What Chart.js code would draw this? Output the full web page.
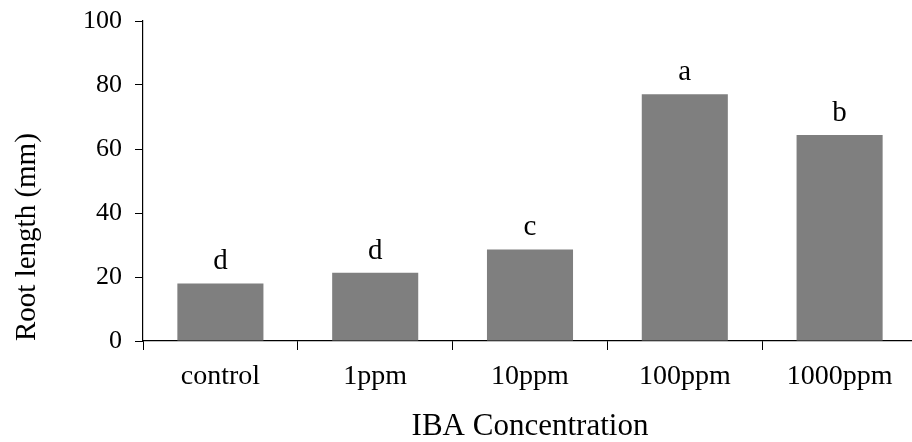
<!DOCTYPE html>
<html>
<head>
<meta charset="utf-8">
<script src="https://cdn.jsdelivr.net/npm/chart.js@4/dist/chart.umd.min.js"></script>
<style>
  html, body { margin: 0; padding: 0; background: #fff; overflow: hidden; }
  #wrap { position: relative; width: 917px; height: 442px; }
</style>
</head>
<body>
<div id="wrap"><canvas id="c"></canvas></div>
<script>
const categories = ['control', '1ppm', '10ppm', '100ppm', '1000ppm'];
const rootLength = [18.0, 21.3, 28.6, 77.1, 64.4];
const letters = ['d', 'd', 'c', 'a', 'b'];
const yTicks = [0, 20, 40, 60, 80, 100];

const FONT = "'Liberation Serif', 'Times New Roman', serif";

const letterPlugin = {
  id: 'letters',
  afterDatasetsDraw(chart) {
    const ctx = chart.ctx;
    const meta = chart.getDatasetMeta(0);
    ctx.save();
    ctx.font = '29px ' + FONT;
    ctx.fillStyle = '#000';
    ctx.textAlign = 'center';
    ctx.textBaseline = 'alphabetic';
    meta.data.forEach((bar, i) => {
      ctx.fillText(letters[i], bar.x, bar.y - 14);
    });
    ctx.restore();
  }
};

new Chart(document.getElementById('c'), {
  type: 'bar',
  data: {
    labels: categories,
    datasets: [{
      data: rootLength,
      backgroundColor: '#7f7f7f',
      borderWidth: 0,
      categoryPercentage: 1.0,
      barPercentage: 0.556
    }]
  },
  options: {
    responsive: true,
    maintainAspectRatio: false,
    animation: false,
    layout: { padding: { top: 21, left: 0, right: 0, bottom: 0 } },
    plugins: { legend: { display: false }, tooltip: { enabled: false } },
    scales: {
      x: {
        grid: { display: true, drawOnChartArea: false, drawTicks: true, tickLength: 9, color: '#000', lineWidth: 1, offset: true },
        border: { display: true, color: '#000', width: 1.2 },
        ticks: { color: '#000', font: { family: FONT, size: 28 }, padding: 10, maxRotation: 0, autoSkip: false },
        title: { display: true, text: 'IBA Concentration', color: '#000', font: { family: FONT, size: 31, lineHeight: 1.0 }, padding: { top: 4, bottom: 0 } },
        afterFit(s) { s.height = 101; }
      },
      y: {
        min: 0, max: 100,
        afterBuildTicks(s) { s.ticks = yTicks.map(v => ({ value: v })); },
        grid: { display: true, drawOnChartArea: false, drawTicks: true, tickLength: 8, color: '#000', lineWidth: 1 },
        border: { display: true, color: '#000', width: 1.2 },
        ticks: { color: '#000', font: { family: FONT, size: 26 }, padding: 13 },
        title: { display: true, text: 'Root length (mm)', color: '#000', font: { family: FONT, size: 29 }, align: 'start', padding: { top: 10, bottom: 0 } },
        afterFit(s) { s.width = 143; s.paddingTop = 0; s.paddingBottom = 0; }
      }
    }
  },
  plugins: [letterPlugin]
});
</script>
</body>
</html>
